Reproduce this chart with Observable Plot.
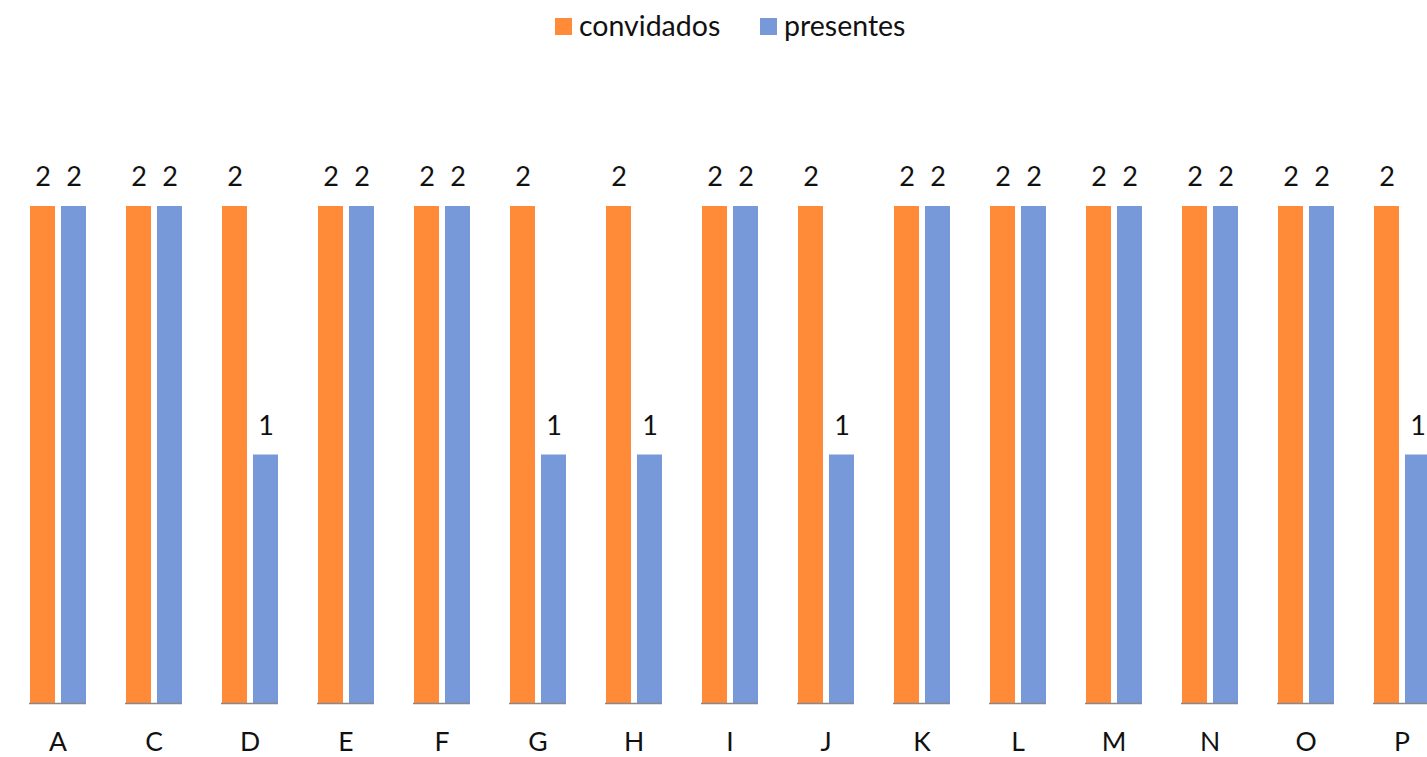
<!DOCTYPE html>
<html>
<head>
<meta charset="utf-8">
<script src="https://cdn.jsdelivr.net/npm/d3@7"></script>
<script src="https://cdn.jsdelivr.net/npm/@observablehq/plot@0.6"></script>
<style>
  html, body { margin: 0; padding: 0; background: #fff; overflow: hidden; }
  body { width: 1427px; height: 757px; font-family: Lato, "Open Sans", sans-serif; }
  #legend { position: relative; height: 20px; width: 1427px; overflow: visible; z-index: 2; }
  .item { position: absolute; top: 0; display: flex; align-items: center; height: 50px; font-size: 28.5px; color: #111; }
  .sw { width: 17px; height: 17px; margin-right: 7px; margin-top: 2px; }
  #chart svg { overflow: hidden; }
</style>
</head>
<body>
<div id="legend"></div>
<div id="chart"></div>
<script>
const categories = ["A","C","D","E","F","G","H","I","J","K","L","M","N","O","P"];
const convidados = [2,2,2,2,2,2,2,2,2,2,2,2,2,2,2];
const presentes  = [2,2,1,2,2,1,1,2,1,2,2,2,2,2,1];
const series = ["convidados","presentes"];
const colors = ["#FF8A37","#7799D9"];

const data = [];
categories.forEach((c, i) => {
  data.push({cat: c, serie: "convidados", value: convidados[i]});
  data.push({cat: c, serie: "presentes", value: presentes[i]});
});

// legend
const legend = document.getElementById("legend");
const lefts = [555, 760];
series.forEach((s, i) => {
  const it = document.createElement("div");
  it.className = "item";
  it.style.left = lefts[i] + "px";
  const sw = document.createElement("span");
  sw.className = "sw";
  sw.style.background = colors[i];
  const t = document.createElement("span");
  t.textContent = s;
  it.appendChild(sw); it.appendChild(t);
  legend.appendChild(it);
});

const chart = Plot.plot({
  width: 1427,
  height: 737,
  marginLeft: 10,
  marginRight: -23,
  marginTop: 186,
  marginBottom: 54,
  style: {fontFamily: "Lato, 'Open Sans', sans-serif", fontSize: "26.5px", color: "#111", overflow: "hidden"},
  fx: {domain: categories, paddingInner: 0.406, paddingOuter: 0.203, label: null, axis: "bottom", tickSize: 0, tickPadding: 29},
  x: {domain: series, paddingInner: 0.205, paddingOuter: 0, axis: null},
  y: {domain: [0, 2], axis: null},
  color: {domain: series, range: colors},
  marks: [
    Plot.barY(data, {fx: "cat", x: "serie", y: "value", fill: "serie"}),
    Plot.text(data, {fx: "cat", x: "serie", y: "value", text: d => String(d.value), dy: -29, fill: "#111", fontSize: 27}),
    Plot.ruleY([0], {stroke: "#898989", strokeWidth: 1.5})
  ]
});
document.getElementById("chart").appendChild(chart);
</script>
</body>
</html>
